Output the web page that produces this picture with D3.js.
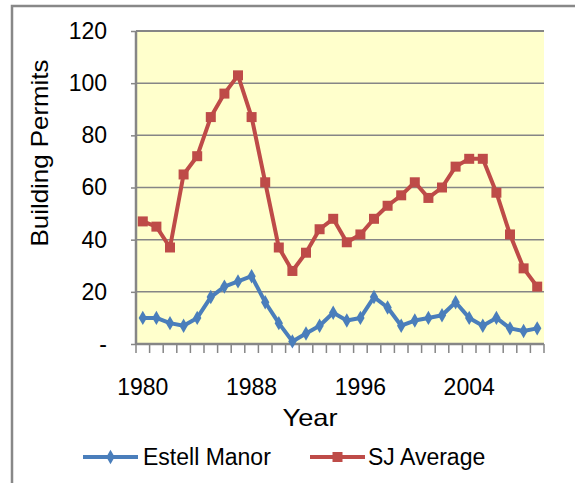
<!DOCTYPE html>
<html>
<head>
<meta charset="utf-8">
<script src="https://cdn.jsdelivr.net/npm/d3@7"></script>
<style>
  body { margin: 0; background: #fff; }
  svg { display: block; font-family: "Liberation Sans", Arial, sans-serif; }
</style>
</head>
<body>
<div id="chart"></div>
<script>
// building permits per year
var years = d3.range(1980, 2010);
var estellManor = [10, 10, 8, 7, 10, 18, 22, 24, 26, 16, 8, 1, 4, 7, 12, 9, 10, 18, 14, 7, 9, 10, 11, 16, 10, 7, 10, 6, 5, 6];
var sjAverage = [47, 45, 37, 65, 72, 87, 96, 103, 87, 62, 37, 28, 35, 44, 48, 39, 42, 48, 53, 57, 62, 56, 60, 68, 71, 71, 58, 42, 29, 22];
var yTicks = [0, 20, 40, 60, 80, 100, 120];
var xLabels = [1980, 1988, 1996, 2004];

var width = 575, height = 483;
var plot = { left: 136, top: 31, right: 544, bottom: 344 };

var svg = d3.select("#chart").append("svg")
    .attr("width", width)
    .attr("height", height);

// outer chart border
svg.append("rect")
    .attr("x", 12).attr("y", 6)
    .attr("width", 570).attr("height", 490)
    .style("fill", "none")
    .style("stroke", "#888")
    .style("stroke-width", 2.5);

var x = d3.scaleBand()
    .domain(years)
    .range([plot.left, plot.right]);

var y = d3.scaleLinear()
    .domain([0, 120])
    .range([plot.bottom, plot.top]);

// plot background
svg.append("rect")
    .attr("x", plot.left).attr("y", plot.top)
    .attr("width", plot.right - plot.left)
    .attr("height", plot.bottom - plot.top)
    .style("fill", "#ffffcc");

// gridlines
svg.selectAll(".grid")
    .data(yTicks.slice(1))
    .enter().append("line")
    .attr("class", "grid")
    .attr("x1", plot.left).attr("x2", plot.right)
    .attr("y1", function(d) { return y(d); })
    .attr("y2", function(d) { return y(d); })
    .style("stroke", "#868686")
    .style("stroke-width", function(d) { return d === 120 ? 2 : 1.5; });

// y axis
var yAxis = svg.append("g")
    .attr("transform", "translate(" + plot.left + ",0)")
    .call(d3.axisLeft(y).tickValues(yTicks).tickSize(5).tickPadding(24)
        .tickFormat(function(d) { return d === 0 ? "-" : d; }));
yAxis.select(".domain").remove();
yAxis.selectAll(".tick line").style("stroke", "#868686").style("stroke-width", 1.5);
yAxis.selectAll("text")
    .style("font-family", "Liberation Sans, Arial, sans-serif")
    .style("font-size", "23px")
    .style("fill", "#000")
    .attr("dy", "0.32em");
yAxis.append("line")
    .attr("x1", 0).attr("x2", 0)
    .attr("y1", plot.top).attr("y2", plot.bottom)
    .style("stroke", "#868686")
    .style("stroke-width", 2.5);

// x axis: ticks between categories
var xAxis = svg.append("g");
var bounds = d3.range(years.length + 1).map(function(i) { return plot.left + i * x.step(); });
xAxis.selectAll(".xtick")
    .data(bounds)
    .enter().append("line")
    .attr("x1", function(d) { return d; })
    .attr("x2", function(d) { return d; })
    .attr("y1", plot.bottom).attr("y2", plot.bottom + 9)
    .style("stroke", "#868686")
    .style("stroke-width", 1.5);
xAxis.append("line")
    .attr("x1", plot.left).attr("x2", plot.right)
    .attr("y1", plot.bottom).attr("y2", plot.bottom)
    .style("stroke", "#868686")
    .style("stroke-width", 2.5);
xAxis.selectAll(".xlabel")
    .data(xLabels)
    .enter().append("text")
    .attr("x", function(d) { return x(d) + x.bandwidth() / 2; })
    .attr("y", 395)
    .attr("text-anchor", "middle")
    .style("font-size", "23px")
    .text(function(d) { return d; });

// axis titles
svg.append("text")
    .attr("transform", "translate(48,153) rotate(-90)")
    .attr("text-anchor", "middle")
    .attr("textLength", 187)
    .attr("lengthAdjust", "spacingAndGlyphs")
    .style("font-size", "24px")
    .text("Building Permits");

svg.append("text")
    .attr("x", 310).attr("y", 426)
    .attr("text-anchor", "middle")
    .attr("textLength", 55)
    .attr("lengthAdjust", "spacingAndGlyphs")
    .style("font-size", "24px")
    .text("Year");

// series lines
var line = d3.line()
    .x(function(d, i) { return x(years[i]) + x.bandwidth() / 2; })
    .y(function(d) { return y(d); });

var series = [
    { name: "Estell Manor", values: estellManor, color: "#4a7ebb", marker: "diamond" },
    { name: "SJ Average", values: sjAverage, color: "#be4b48", marker: "square" }
];

series.forEach(function(s) {
    svg.append("path")
        .datum(s.values)
        .attr("d", line)
        .style("fill", "none")
        .style("stroke", s.color)
        .style("stroke-width", 4)
        .style("stroke-linejoin", "round");

    var sym = d3.symbol()
        .type(s.marker === "square" ? d3.symbolSquare : d3.symbolDiamond)
        .size(s.marker === "square" ? 100 : 60);

    svg.selectAll(".m-" + s.marker)
        .data(s.values)
        .enter().append("path")
        .attr("transform", function(d, i) {
            return "translate(" + (x(years[i]) + x.bandwidth() / 2) + "," + y(d) + ")";
        })
        .attr("d", sym)
        .style("fill", s.color);
});

// legend
var legendItems = [
    { x1: 83, x2: 138, tx: 143 },
    { x1: 310, x2: 365, tx: 368 }
];
series.forEach(function(s, i) {
    var L = legendItems[i];
    svg.append("line")
        .attr("x1", L.x1).attr("x2", L.x2)
        .attr("y1", 457).attr("y2", 457)
        .style("stroke", s.color)
        .style("stroke-width", 4);
    svg.append("path")
        .attr("transform", "translate(" + ((L.x1 + L.x2) / 2) + ",457)")
        .attr("d", d3.symbol()
            .type(s.marker === "square" ? d3.symbolSquare : d3.symbolDiamond)
            .size(s.marker === "square" ? 100 : 60))
        .style("fill", s.color);
    svg.append("text")
        .attr("x", L.tx).attr("y", 465)
        .style("font-size", "23px")
        .text(s.name);
});
</script>
</body>
</html>
